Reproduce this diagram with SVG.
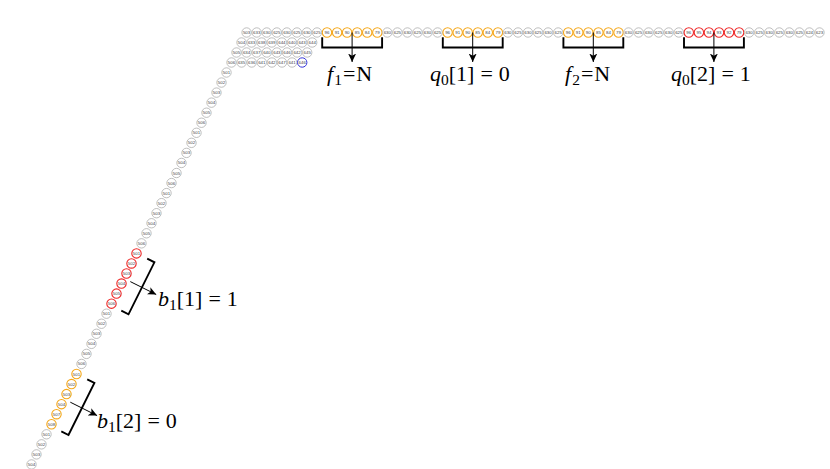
<svg xmlns="http://www.w3.org/2000/svg" width="830" height="469" viewBox="0 0 830 469">
<style>
.n circle{fill:#fff;stroke:#aaaaaa;stroke-width:0.75}
.n text{font-family:"Liberation Sans",Arial,sans-serif;font-size:4.4px;fill:#444;text-anchor:middle}
.n.o circle{stroke:#f5a81c;stroke-width:1.1}
.n.r circle{stroke:#ee2a2a;stroke-width:1.1}
.n.b circle{stroke:#3535d8;stroke-width:1}
.br{fill:none;stroke:#000;stroke-width:1.9}
.ar{fill:none;stroke:#000;stroke-width:1;marker-end:url(#ah)}
.lab{font-family:"Liberation Serif","Times New Roman",serif;font-size:22px;fill:#000}
.lab .i{font-style:italic}
.lab .s{font-size:15.5px}
</style>
<defs>
<marker id="ah" markerUnits="userSpaceOnUse" markerWidth="10" markerHeight="9" refX="8.5" refY="4.5" orient="auto">
<path d="M0,0.5 L8.5,4.5 L0,8.5 L2.2,4.5 z" fill="#000"/>
</marker>
</defs>
<g id="nodes">
<g id="r1c0" class="n"><circle cx="246.6" cy="32.5" r="4.7"/><text x="246.6" y="34">503</text></g>
<g id="r1c1" class="n"><circle cx="256.7" cy="32.5" r="4.7"/><text x="256.7" y="34">633</text></g>
<g id="r1c2" class="n"><circle cx="266.7" cy="32.5" r="4.7"/><text x="266.7" y="34">630</text></g>
<g id="r1c3" class="n"><circle cx="276.8" cy="32.5" r="4.7"/><text x="276.8" y="34">625</text></g>
<g id="r1c4" class="n"><circle cx="286.8" cy="32.5" r="4.7"/><text x="286.8" y="34">630</text></g>
<g id="r1c5" class="n"><circle cx="296.9" cy="32.5" r="4.7"/><text x="296.9" y="34">625</text></g>
<g id="r1c6" class="n"><circle cx="306.9" cy="32.5" r="4.7"/><text x="306.9" y="34">630</text></g>
<g id="r1c7" class="n"><circle cx="317.0" cy="32.5" r="4.7"/><text x="317.0" y="34">625</text></g>
<g id="r1c8" class="n o"><circle cx="327.0" cy="32.5" r="4.7"/><text x="327.0" y="34">96</text></g>
<g id="r1c9" class="n o"><circle cx="337.1" cy="32.5" r="4.7"/><text x="337.1" y="34">91</text></g>
<g id="r1c10" class="n o"><circle cx="347.1" cy="32.5" r="4.7"/><text x="347.1" y="34">90</text></g>
<g id="r1c11" class="n o"><circle cx="357.2" cy="32.5" r="4.7"/><text x="357.2" y="34">85</text></g>
<g id="r1c12" class="n o"><circle cx="367.2" cy="32.5" r="4.7"/><text x="367.2" y="34">84</text></g>
<g id="r1c13" class="n o"><circle cx="377.3" cy="32.5" r="4.7"/><text x="377.3" y="34">79</text></g>
<g id="r1c14" class="n"><circle cx="387.3" cy="32.5" r="4.7"/><text x="387.3" y="34">630</text></g>
<g id="r1c15" class="n"><circle cx="397.4" cy="32.5" r="4.7"/><text x="397.4" y="34">625</text></g>
<g id="r1c16" class="n"><circle cx="407.4" cy="32.5" r="4.7"/><text x="407.4" y="34">630</text></g>
<g id="r1c17" class="n"><circle cx="417.5" cy="32.5" r="4.7"/><text x="417.5" y="34">625</text></g>
<g id="r1c18" class="n"><circle cx="427.5" cy="32.5" r="4.7"/><text x="427.5" y="34">630</text></g>
<g id="r1c19" class="n"><circle cx="437.6" cy="32.5" r="4.7"/><text x="437.6" y="34">625</text></g>
<g id="r1c20" class="n o"><circle cx="447.6" cy="32.5" r="4.7"/><text x="447.6" y="34">96</text></g>
<g id="r1c21" class="n o"><circle cx="457.7" cy="32.5" r="4.7"/><text x="457.7" y="34">91</text></g>
<g id="r1c22" class="n o"><circle cx="467.7" cy="32.5" r="4.7"/><text x="467.7" y="34">90</text></g>
<g id="r1c23" class="n o"><circle cx="477.8" cy="32.5" r="4.7"/><text x="477.8" y="34">85</text></g>
<g id="r1c24" class="n o"><circle cx="487.8" cy="32.5" r="4.7"/><text x="487.8" y="34">84</text></g>
<g id="r1c25" class="n o"><circle cx="497.9" cy="32.5" r="4.7"/><text x="497.9" y="34">79</text></g>
<g id="r1c26" class="n"><circle cx="507.9" cy="32.5" r="4.7"/><text x="507.9" y="34">630</text></g>
<g id="r1c27" class="n"><circle cx="518.0" cy="32.5" r="4.7"/><text x="518.0" y="34">625</text></g>
<g id="r1c28" class="n"><circle cx="528.0" cy="32.5" r="4.7"/><text x="528.0" y="34">630</text></g>
<g id="r1c29" class="n"><circle cx="538.1" cy="32.5" r="4.7"/><text x="538.1" y="34">625</text></g>
<g id="r1c30" class="n"><circle cx="548.1" cy="32.5" r="4.7"/><text x="548.1" y="34">630</text></g>
<g id="r1c31" class="n"><circle cx="558.2" cy="32.5" r="4.7"/><text x="558.2" y="34">625</text></g>
<g id="r1c32" class="n o"><circle cx="568.2" cy="32.5" r="4.7"/><text x="568.2" y="34">96</text></g>
<g id="r1c33" class="n o"><circle cx="578.3" cy="32.5" r="4.7"/><text x="578.3" y="34">91</text></g>
<g id="r1c34" class="n o"><circle cx="588.3" cy="32.5" r="4.7"/><text x="588.3" y="34">90</text></g>
<g id="r1c35" class="n o"><circle cx="598.4" cy="32.5" r="4.7"/><text x="598.4" y="34">85</text></g>
<g id="r1c36" class="n o"><circle cx="608.4" cy="32.5" r="4.7"/><text x="608.4" y="34">84</text></g>
<g id="r1c37" class="n o"><circle cx="618.5" cy="32.5" r="4.7"/><text x="618.5" y="34">79</text></g>
<g id="r1c38" class="n"><circle cx="628.5" cy="32.5" r="4.7"/><text x="628.5" y="34">630</text></g>
<g id="r1c39" class="n"><circle cx="638.6" cy="32.5" r="4.7"/><text x="638.6" y="34">625</text></g>
<g id="r1c40" class="n"><circle cx="648.6" cy="32.5" r="4.7"/><text x="648.6" y="34">630</text></g>
<g id="r1c41" class="n"><circle cx="658.7" cy="32.5" r="4.7"/><text x="658.7" y="34">625</text></g>
<g id="r1c42" class="n"><circle cx="668.7" cy="32.5" r="4.7"/><text x="668.7" y="34">630</text></g>
<g id="r1c43" class="n"><circle cx="678.8" cy="32.5" r="4.7"/><text x="678.8" y="34">625</text></g>
<g id="r1c44" class="n r"><circle cx="688.8" cy="32.5" r="4.7"/><text x="688.8" y="34">96</text></g>
<g id="r1c45" class="n r"><circle cx="698.9" cy="32.5" r="4.7"/><text x="698.9" y="34">95</text></g>
<g id="r1c46" class="n r"><circle cx="708.9" cy="32.5" r="4.7"/><text x="708.9" y="34">94</text></g>
<g id="r1c47" class="n r"><circle cx="719.0" cy="32.5" r="4.7"/><text x="719.0" y="34">93</text></g>
<g id="r1c48" class="n r"><circle cx="729.0" cy="32.5" r="4.7"/><text x="729.0" y="34">92</text></g>
<g id="r1c49" class="n r"><circle cx="739.1" cy="32.5" r="4.7"/><text x="739.1" y="34">79</text></g>
<g id="r1c50" class="n"><circle cx="749.1" cy="32.5" r="4.7"/><text x="749.1" y="34">630</text></g>
<g id="r1c51" class="n"><circle cx="759.2" cy="32.5" r="4.7"/><text x="759.2" y="34">625</text></g>
<g id="r1c52" class="n"><circle cx="769.2" cy="32.5" r="4.7"/><text x="769.2" y="34">630</text></g>
<g id="r1c53" class="n"><circle cx="779.3" cy="32.5" r="4.7"/><text x="779.3" y="34">625</text></g>
<g id="r1c54" class="n"><circle cx="789.3" cy="32.5" r="4.7"/><text x="789.3" y="34">630</text></g>
<g id="r1c55" class="n"><circle cx="799.4" cy="32.5" r="4.7"/><text x="799.4" y="34">625</text></g>
<g id="r1c56" class="n"><circle cx="809.4" cy="32.5" r="4.7"/><text x="809.4" y="34">624</text></g>
<g id="r1c57" class="n"><circle cx="819.5" cy="32.5" r="4.7"/><text x="819.5" y="34">623</text></g>

<g id="r2c0" class="n"><circle cx="241.5" cy="42.5" r="4.7"/><text x="241.5" y="44">504</text></g>
<g id="r2c1" class="n"><circle cx="251.6" cy="42.5" r="4.7"/><text x="251.6" y="44">633</text></g>
<g id="r2c2" class="n"><circle cx="261.7" cy="42.5" r="4.7"/><text x="261.7" y="44">638</text></g>
<g id="r2c3" class="n"><circle cx="271.8" cy="42.5" r="4.7"/><text x="271.8" y="44">639</text></g>
<g id="r2c4" class="n"><circle cx="281.9" cy="42.5" r="4.7"/><text x="281.9" y="44">644</text></g>
<g id="r2c5" class="n"><circle cx="292.0" cy="42.5" r="4.7"/><text x="292.0" y="44">640</text></g>
<g id="r2c6" class="n"><circle cx="302.1" cy="42.5" r="4.7"/><text x="302.1" y="44">643</text></g>
<g id="r2c7" class="n"><circle cx="312.2" cy="42.5" r="4.7"/><text x="312.2" y="44">644</text></g>

<g id="r3c0" class="n"><circle cx="236.5" cy="52.5" r="4.7"/><text x="236.5" y="54">505</text></g>
<g id="r3c1" class="n"><circle cx="246.6" cy="52.5" r="4.7"/><text x="246.6" y="54">634</text></g>
<g id="r3c2" class="n"><circle cx="256.7" cy="52.5" r="4.7"/><text x="256.7" y="54">637</text></g>
<g id="r3c3" class="n"><circle cx="266.8" cy="52.5" r="4.7"/><text x="266.8" y="54">640</text></g>
<g id="r3c4" class="n"><circle cx="276.9" cy="52.5" r="4.7"/><text x="276.9" y="54">643</text></g>
<g id="r3c5" class="n"><circle cx="287.0" cy="52.5" r="4.7"/><text x="287.0" y="54">646</text></g>
<g id="r3c6" class="n"><circle cx="297.1" cy="52.5" r="4.7"/><text x="297.1" y="54">642</text></g>
<g id="r3c7" class="n"><circle cx="307.2" cy="52.5" r="4.7"/><text x="307.2" y="54">645</text></g>

<g id="r4c0" class="n"><circle cx="231.5" cy="62.5" r="4.7"/><text x="231.5" y="64">506</text></g>
<g id="r4c1" class="n"><circle cx="241.6" cy="62.5" r="4.7"/><text x="241.6" y="64">635</text></g>
<g id="r4c2" class="n"><circle cx="251.7" cy="62.5" r="4.7"/><text x="251.7" y="64">636</text></g>
<g id="r4c3" class="n"><circle cx="261.8" cy="62.5" r="4.7"/><text x="261.8" y="64">641</text></g>
<g id="r4c4" class="n"><circle cx="271.9" cy="62.5" r="4.7"/><text x="271.9" y="64">642</text></g>
<g id="r4c5" class="n"><circle cx="282.0" cy="62.5" r="4.7"/><text x="282.0" y="64">647</text></g>
<g id="r4c6" class="n"><circle cx="292.1" cy="62.5" r="4.7"/><text x="292.1" y="64">641</text></g>
<g id="r4c7" class="n b"><circle cx="302.2" cy="62.5" r="4.7"/><text x="302.2" y="64">646</text></g>

<g id="k0" class="n"><circle cx="226.5" cy="72.5" r="4.7"/><text x="226.5" y="74">501</text></g>
<g id="k1" class="n"><circle cx="221.5" cy="82.55" r="4.7"/><text x="221.5" y="84.05">502</text></g>
<g id="k2" class="n"><circle cx="216.5" cy="92.6" r="4.7"/><text x="216.5" y="94.1">503</text></g>
<g id="k3" class="n"><circle cx="211.5" cy="102.65" r="4.7"/><text x="211.5" y="104.15">504</text></g>
<g id="k4" class="n"><circle cx="206.5" cy="112.7" r="4.7"/><text x="206.5" y="114.2">505</text></g>
<g id="k5" class="n"><circle cx="201.5" cy="122.75" r="4.7"/><text x="201.5" y="124.25">506</text></g>
<g id="k6" class="n"><circle cx="196.5" cy="132.8" r="4.7"/><text x="196.5" y="134.3">501</text></g>
<g id="k7" class="n"><circle cx="191.5" cy="142.85" r="4.7"/><text x="191.5" y="144.35">502</text></g>
<g id="k8" class="n"><circle cx="186.5" cy="152.9" r="4.7"/><text x="186.5" y="154.4">503</text></g>
<g id="k9" class="n"><circle cx="181.5" cy="162.95" r="4.7"/><text x="181.5" y="164.45">504</text></g>
<g id="k10" class="n"><circle cx="176.5" cy="173" r="4.7"/><text x="176.5" y="174.5">505</text></g>
<g id="k11" class="n"><circle cx="171.5" cy="183.05" r="4.7"/><text x="171.5" y="184.55">506</text></g>
<g id="k12" class="n"><circle cx="166.5" cy="193.1" r="4.7"/><text x="166.5" y="194.6">501</text></g>
<g id="k13" class="n"><circle cx="161.5" cy="203.15" r="4.7"/><text x="161.5" y="204.65">502</text></g>
<g id="k14" class="n"><circle cx="156.5" cy="213.2" r="4.7"/><text x="156.5" y="214.7">503</text></g>
<g id="k15" class="n"><circle cx="151.5" cy="223.25" r="4.7"/><text x="151.5" y="224.75">504</text></g>
<g id="k16" class="n"><circle cx="146.5" cy="233.3" r="4.7"/><text x="146.5" y="234.8">505</text></g>
<g id="k17" class="n"><circle cx="141.5" cy="243.35" r="4.7"/><text x="141.5" y="244.85">506</text></g>
<g id="k18" class="n r"><circle cx="136.5" cy="253.4" r="4.7"/><text x="136.5" y="254.9">501</text></g>
<g id="k19" class="n r"><circle cx="131.5" cy="263.45" r="4.7"/><text x="131.5" y="264.95">502</text></g>
<g id="k20" class="n r"><circle cx="126.5" cy="273.5" r="4.7"/><text x="126.5" y="275">503</text></g>
<g id="k21" class="n r"><circle cx="121.5" cy="283.55" r="4.7"/><text x="121.5" y="285.05">504</text></g>
<g id="k22" class="n r"><circle cx="116.5" cy="293.6" r="4.7"/><text x="116.5" y="295.1">505</text></g>
<g id="k23" class="n r"><circle cx="111.5" cy="303.65" r="4.7"/><text x="111.5" y="305.15">506</text></g>
<g id="k24" class="n"><circle cx="106.5" cy="313.7" r="4.7"/><text x="106.5" y="315.2">501</text></g>
<g id="k25" class="n"><circle cx="101.5" cy="323.75" r="4.7"/><text x="101.5" y="325.25">502</text></g>
<g id="k26" class="n"><circle cx="96.5" cy="333.8" r="4.7"/><text x="96.5" y="335.3">503</text></g>
<g id="k27" class="n"><circle cx="91.5" cy="343.85" r="4.7"/><text x="91.5" y="345.35">504</text></g>
<g id="k28" class="n"><circle cx="86.5" cy="353.9" r="4.7"/><text x="86.5" y="355.4">505</text></g>
<g id="k29" class="n"><circle cx="81.5" cy="363.95" r="4.7"/><text x="81.5" y="365.45">506</text></g>
<g id="k30" class="n o"><circle cx="76.5" cy="374" r="4.7"/><text x="76.5" y="375.5">501</text></g>
<g id="k31" class="n o"><circle cx="71.5" cy="384.05" r="4.7"/><text x="71.5" y="385.55">502</text></g>
<g id="k32" class="n o"><circle cx="66.5" cy="394.1" r="4.7"/><text x="66.5" y="395.6">503</text></g>
<g id="k33" class="n o"><circle cx="61.5" cy="404.15" r="4.7"/><text x="61.5" y="405.65">504</text></g>
<g id="k34" class="n o"><circle cx="56.5" cy="414.2" r="4.7"/><text x="56.5" y="415.7">507</text></g>
<g id="k35" class="n o"><circle cx="51.5" cy="424.25" r="4.7"/><text x="51.5" y="425.75">508</text></g>
<g id="k36" class="n"><circle cx="46.5" cy="434.3" r="4.7"/><text x="46.5" y="435.8">501</text></g>
<g id="k37" class="n"><circle cx="41.5" cy="444.35" r="4.7"/><text x="41.5" y="445.85">502</text></g>
<g id="k38" class="n"><circle cx="36.5" cy="454.4" r="4.7"/><text x="36.5" y="455.9">503</text></g>
<g id="k39" class="n"><circle cx="31.5" cy="464.45" r="4.7"/><text x="31.5" y="465.95">504</text></g>
</g>

<g id="connectors">
<path class="br" d="M322.2,37.2 V47.5 H382.1 V37.2"/>
<path class="br" d="M442.8,37.2 V47.5 H502.7 V37.2"/>
<path class="br" d="M563.4,37.2 V47.5 H623.3 V37.2"/>
<path class="br" d="M684.0,37.2 V47.5 H743.9 V37.2"/>
<path class="ar" d="M352.1,32.5 V62"/>
<path class="ar" d="M472.7,32.5 V62"/>
<path class="ar" d="M593.3,32.5 V62"/>
<path class="ar" d="M713.9,32.5 V62"/>
<path class="br" d="M147.2,258.7 L154.4,262.3 L128.5,314.3 L121.3,310.7"/>
<path class="br" d="M87.2,379.3 L94.4,382.9 L68.5,435 L61.3,431.4"/>
<path class="ar" d="M130.3,281.6 L156.2,294.5"/>
<path class="ar" d="M70.3,402.2 L97.1,415.6"/>
</g>

<g id="labels">
<text class="lab" x="327" y="81"><tspan class="i">f</tspan><tspan class="s" dx="1" dy="4">1</tspan><tspan dx="1" dy="-4">=</tspan><tspan dx="1">N</tspan></text>
<text class="lab" x="430" y="81"><tspan class="i">q</tspan><tspan class="s" dy="4">0</tspan><tspan dy="-4">[1]</tspan><tspan dx="6">=</tspan><tspan dx="6">0</tspan></text>
<text class="lab" x="565" y="81"><tspan class="i">f</tspan><tspan class="s" dx="1" dy="4">2</tspan><tspan dx="1" dy="-4">=</tspan><tspan dx="1">N</tspan></text>
<text class="lab" x="671" y="81"><tspan class="i">q</tspan><tspan class="s" dy="4">0</tspan><tspan dy="-4">[2]</tspan><tspan dx="6">=</tspan><tspan dx="6">1</tspan></text>
<text class="lab" x="158" y="306"><tspan class="i">b</tspan><tspan class="s" dy="4">1</tspan><tspan dy="-4">[1]</tspan><tspan dx="6">=</tspan><tspan dx="6">1</tspan></text>
<text class="lab" x="97" y="428"><tspan class="i">b</tspan><tspan class="s" dy="4">1</tspan><tspan dy="-4">[2]</tspan><tspan dx="6">=</tspan><tspan dx="6">0</tspan></text>
</g>
</svg>
